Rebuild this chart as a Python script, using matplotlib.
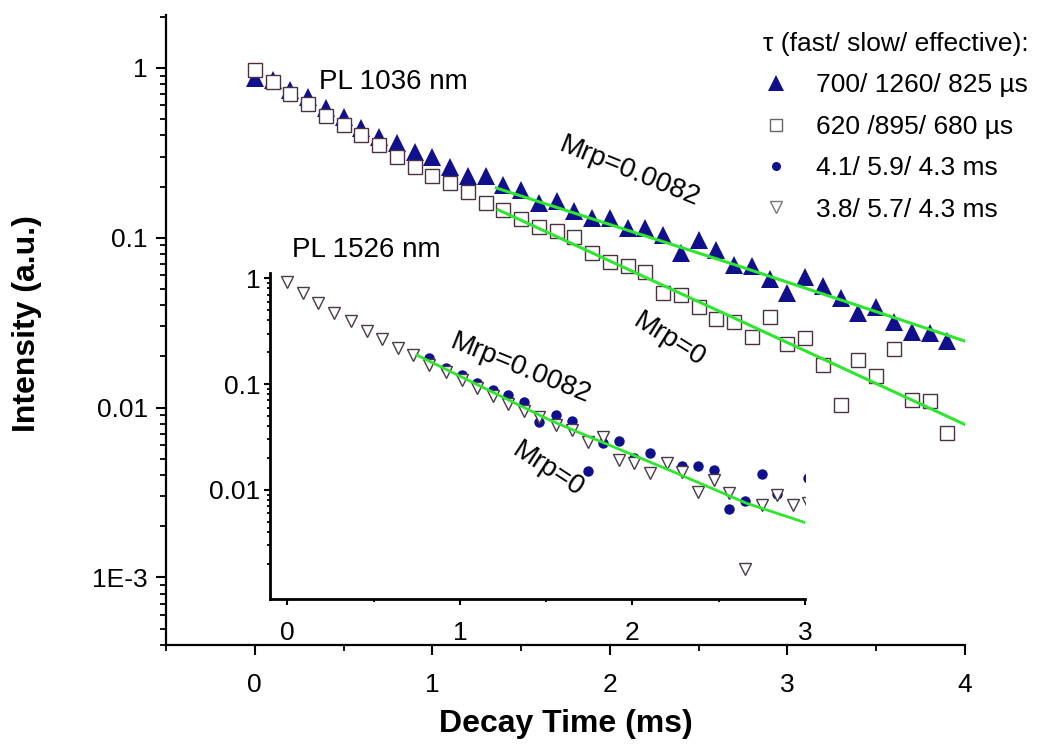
import matplotlib
matplotlib.use("Agg")
import matplotlib.pyplot as plt
from matplotlib.lines import Line2D
from matplotlib.ticker import FixedLocator, LogLocator, NullFormatter, MultipleLocator

plt.rcParams['font.family'] = ['Liberation Sans', 'DejaVu Sans']

# ---- main panel: PL 1036 nm ----
t_main = [0.0, 0.1, 0.2, 0.3, 0.4, 0.5, 0.6, 0.7, 0.8, 0.9,
          1.0, 1.1, 1.2, 1.3, 1.4, 1.5, 1.6, 1.7, 1.8, 1.9,
          2.0, 2.1, 2.2, 2.3, 2.4, 2.5, 2.6, 2.7, 2.8, 2.9,
          3.0, 3.1, 3.2, 3.3, 3.4, 3.5, 3.6, 3.7, 3.8, 3.9]
tri_1036 = [0.87, 0.85, 0.74, 0.67, 0.58, 0.51, 0.44, 0.39, 0.36, 0.32,
            0.30, 0.26, 0.23, 0.23, 0.205, 0.19, 0.16, 0.164, 0.143, 0.13,
            0.13, 0.114, 0.114, 0.103, 0.081, 0.097, 0.085, 0.069, 0.068, 0.057,
            0.047, 0.059, 0.052, 0.044, 0.036, 0.039, 0.032, 0.028, 0.0275, 0.0245]
sq_1036 = [0.97, 0.83, 0.70, 0.61, 0.52, 0.46, 0.40, 0.35, 0.30, 0.26,
           0.23, 0.21, 0.186, 0.16, 0.145, 0.128, 0.115, 0.110, 0.101, 0.081,
           0.0716, 0.068, 0.063, 0.047, 0.046, 0.039, 0.033, 0.032, 0.026, 0.034,
           0.0235, 0.0257, 0.0179, 0.0104, 0.0191, 0.0154, 0.0221, 0.011, 0.0109, 0.0071]
fit_t_up = [1.36, 2.69, 4.02]
fit_up = [0.196, 0.070, 0.0242]
fit_t_low = [1.37, 2.69, 4.02]
fit_low = [0.146, 0.034, 0.00776]

# ---- inset: PL 1526 nm ----
t_inset = [0.0, 0.09, 0.18, 0.27, 0.37, 0.46, 0.55, 0.64, 0.73, 0.82,
           0.92, 1.01, 1.10, 1.19, 1.28, 1.37, 1.46, 1.56, 1.65, 1.74,
           1.83, 1.92, 2.01, 2.10, 2.20, 2.29, 2.38, 2.47, 2.56, 2.65,
           2.75, 2.84, 2.93, 3.02]
tri_1526 = [0.92, 0.72, 0.585, 0.47, 0.39, 0.32, 0.264, 0.217, 0.188, 0.151,
            0.13, 0.109, 0.091, 0.077, 0.065, 0.056, 0.049, 0.041, 0.037, 0.0286,
            0.0318, 0.0192, 0.0181, 0.0144, 0.0181, 0.0149, 0.0096, 0.0124, 0.0093, 0.0018,
            0.0072, 0.009, 0.0072, 0.0075]
t_circ = [0.82, 0.92, 1.01, 1.10, 1.19, 1.28, 1.37, 1.46, 1.56, 1.65,
          1.74, 1.83, 1.92, 2.01, 2.10, 2.29, 2.38, 2.47, 2.56, 2.65,
          2.75, 2.84, 3.02]
circ_1526 = [0.175, 0.141, 0.122, 0.103, 0.088, 0.079, 0.068, 0.044, 0.051, 0.045,
             0.0152, 0.028, 0.029, 0.0199, 0.0222, 0.0168, 0.0168, 0.0154, 0.0066, 0.0078,
             0.0142, 0.0092, 0.0129]
fit_t_in = [0.75, 1.52, 1.70, 2.20, 2.66, 3.01]
fit_in = [0.188, 0.0457, 0.0343, 0.0157, 0.00748, 0.00485]

legend_title = "τ (fast/ slow/ effective):"
legend_labels = ["700/ 1260/ 825 µs", "620 /895/ 680 µs",
                 "4.1/ 5.9/ 4.3 ms", "3.8/ 5.7/ 4.3 ms"]

navy = "#10108c"
green = "#2ee62e"
sq_edge = "#4a3242"
tri_edge = "#4a3a4a"

fig = plt.figure(figsize=(10.6, 7.52), dpi=100)
ax = fig.add_axes([0.1566, 0.1423, 0.7538, 0.838])

ax.plot(t_main, tri_1036, ls="none", marker="^", ms=13, color=navy, mew=0, zorder=3)
ax.plot(t_main, sq_1036, ls="none", marker="s", ms=9.5, mfc="white", mec=sq_edge, mew=1.0, zorder=4)
ax.plot(fit_t_up, fit_up, color=green, lw=2.2, zorder=5)
ax.plot(fit_t_low, fit_low, color=green, lw=2.2, zorder=5)

ax.set_yscale("log")
ax.set_xlim(-0.5, 4.0)
ax.set_ylim(4e-4, 2.05)
ax.yaxis.set_major_locator(FixedLocator([1e-3, 1e-2, 1e-1, 1]))
ax.set_yticklabels(["1E-3", "0.01", "0.1", "1"])
ax.yaxis.set_minor_locator(LogLocator(base=10, subs=range(2, 10), numticks=20))
ax.yaxis.set_minor_formatter(NullFormatter())
ax.xaxis.set_major_locator(FixedLocator([0, 1, 2, 3, 4]))
ax.xaxis.set_minor_locator(MultipleLocator(0.5))

for s in ["top", "right"]:
    ax.spines[s].set_visible(False)
for s in ["left", "bottom"]:
    ax.spines[s].set_linewidth(1.6)
ax.tick_params(axis="both", which="major", direction="out", length=7, width=1.5, labelsize=19)
ax.tick_params(axis="both", which="minor", direction="out", length=4.5, width=1.3)
ax.tick_params(axis="x", which="major", pad=13)
ax.tick_params(axis="y", which="major", pad=6)

ax.set_xlabel("Decay Time (ms)", fontsize=23, fontweight="bold")
ax.set_ylabel("Intensity (a.u.)", fontsize=23, fontweight="bold")
ax.xaxis.set_label_coords(0.5, -0.102)
ax.yaxis.set_label_coords(-0.155, 0.51)

ax.text(0.36, 0.82, "PL 1036 nm", fontsize=20, ha="left", va="center")
ax.text(0.21, 0.085, "PL 1526 nm", fontsize=20, ha="left", va="center")
ax.text(2.11, 0.244, "Mrp=0.0082", fontsize=20, ha="center", va="center",
        rotation=-22, rotation_mode="anchor")
ax.text(2.335, 0.025, "Mrp=0", fontsize=20, ha="center", va="center",
        rotation=-32, rotation_mode="anchor")

handles = [
    Line2D([], [], ls="none", marker="^", ms=11, color=navy, mew=0),
    Line2D([], [], ls="none", marker="s", ms=8, mfc="white", mec="#666666", mew=1.0),
    Line2D([], [], ls="none", marker="o", ms=6.5, color=navy, mew=0),
    Line2D([], [], ls="none", marker="v", ms=8, mfc="white", mec="#777777", mew=1.0),
]
ax.legend(handles, legend_labels, title=legend_title, loc="upper left",
          bbox_to_anchor=(763 / 1060, 1 - 32 / 752), bbox_transform=fig.transFigure,
          frameon=False, fontsize=19, title_fontsize=19, alignment="left",
          handlelength=1.0, handletextpad=1.0, labelspacing=0.66,
          borderpad=0, borderaxespad=0)

# ---- inset ----
axi = fig.add_axes([270 / 1060, 1 - 599 / 752, 535 / 1060, 326 / 752])
axi.set_facecolor("none")
axi.plot(t_circ, circ_1526, ls="none", marker="o", ms=7.5, color=navy, mew=0, zorder=3)
axi.plot(t_inset, tri_1526, ls="none", marker="v", ms=9, mfc="white", mec=tri_edge, mew=1.0, zorder=4)
axi.plot(fit_t_in, fit_in, color=green, lw=2.0, zorder=5)

axi.set_yscale("log")
axi.set_xlim(-0.1, 3.0)
axi.set_ylim(9.3e-4, 1.12)
axi.yaxis.set_major_locator(FixedLocator([1e-2, 1e-1, 1]))
axi.set_yticklabels(["0.01", "0.1", "1"])
axi.yaxis.set_minor_locator(LogLocator(base=10, subs=range(2, 10), numticks=20))
axi.yaxis.set_minor_formatter(NullFormatter())
axi.xaxis.set_major_locator(FixedLocator([0, 1, 2, 3]))
axi.xaxis.set_minor_locator(MultipleLocator(0.5))
for s in ["top", "right"]:
    axi.spines[s].set_visible(False)
for s in ["left", "bottom"]:
    axi.spines[s].set_linewidth(2.0)
axi.tick_params(axis="both", which="major", direction="out", length=4, width=1.5, labelsize=19)
axi.tick_params(axis="both", which="minor", direction="out", length=2.5, width=1.3)
axi.tick_params(axis="x", which="major", pad=12)
axi.tick_params(axis="y", which="major", pad=3)

axi.text(1.35, 0.14, "Mrp=0.0082", fontsize=20, ha="center", va="center",
         rotation=-22, rotation_mode="anchor")
axi.text(1.51, 0.0155, "Mrp=0", fontsize=20, ha="center", va="center",
         rotation=-33, rotation_mode="anchor")

fig.savefig("out.png", dpi=100)
